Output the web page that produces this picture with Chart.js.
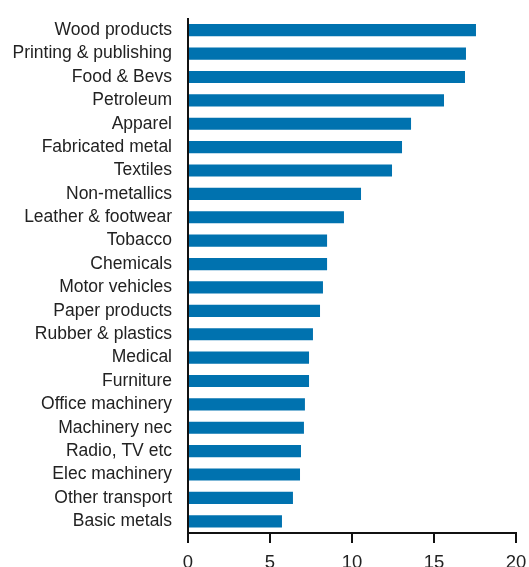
<!DOCTYPE html>
<html>
<head>
<meta charset="utf-8">
<script src="https://cdn.jsdelivr.net/npm/chart.js@4"></script>
<style>
  html, body { margin: 0; padding: 0; background: #fff; overflow: hidden; }
  #wrap { width: 529px; height: 580px; }
</style>
</head>
<body>
<div id="wrap"><canvas id="chart"></canvas></div>
<script>
let industries = [
  "Wood products", "Printing & publishing", "Food & Bevs", "Petroleum",
  "Apparel", "Fabricated metal", "Textiles", "Non-metallics",
  "Leather & footwear", "Tobacco", "Chemicals", "Motor vehicles",
  "Paper products", "Rubber & plastics", "Medical", "Furniture",
  "Office machinery", "Machinery nec", "Radio, TV etc", "Elec machinery",
  "Other transport", "Basic metals"
];
let values = [
  17.56, 16.95, 16.89, 15.61,
  13.6, 13.05, 12.44, 10.55,
  9.51, 8.48, 8.48, 8.23,
  8.05, 7.62, 7.38, 7.38,
  7.13, 7.07, 6.89, 6.83,
  6.4, 5.73
];
let xTicks = [0, 5, 10, 15, 20];

let barColor = "rgb(0,114,175)";
let labelFont = { family: "'Liberation Sans', Arial, sans-serif", size: 17.5 };
let tickFont = { family: "'Liberation Sans', Arial, sans-serif", size: 18.5 };

new Chart(document.querySelector("#chart"), {
  type: "bar",
  data: {
    labels: industries,
    datasets: [{
      data: values,
      backgroundColor: barColor,
      barPercentage: 0.52,
      categoryPercentage: 1
    }]
  },
  options: {
    indexAxis: "y",
    responsive: true,
    maintainAspectRatio: false,
    animation: false,
    layout: { padding: { top: 11, right: 13, left: 0, bottom: 0 } },
    plugins: { legend: { display: false }, tooltip: { enabled: false } },
    scales: {
      x: {
        min: xTicks[0],
        max: xTicks[xTicks.length - 1],
        afterBuildTicks: (scale) => {
          scale.ticks = xTicks.map(v => ({ value: v }));
        },
        afterFit: (scale) => {
          scale.height = 47;
          // let the "20" label overflow like in the original
          scale.paddingRight = 0;
          scale.paddingLeft = 0;
        },
        grid: {
          drawOnChartArea: false,
          drawTicks: true,
          tickLength: 10,
          color: "#111",
          lineWidth: 2
        },
        border: { color: "#111", width: 2 },
        ticks: { font: tickFont, color: "#222", padding: 9 }
      },
      y: {
        afterFit: (scale) => { scale.width = 188; },
        grid: { display: false },
        border: { color: "#111", width: 2 },
        ticks: { font: labelFont, color: "#222", padding: 8, autoSkip: false }
      }
    }
  }
});
</script>
</body>
</html>
